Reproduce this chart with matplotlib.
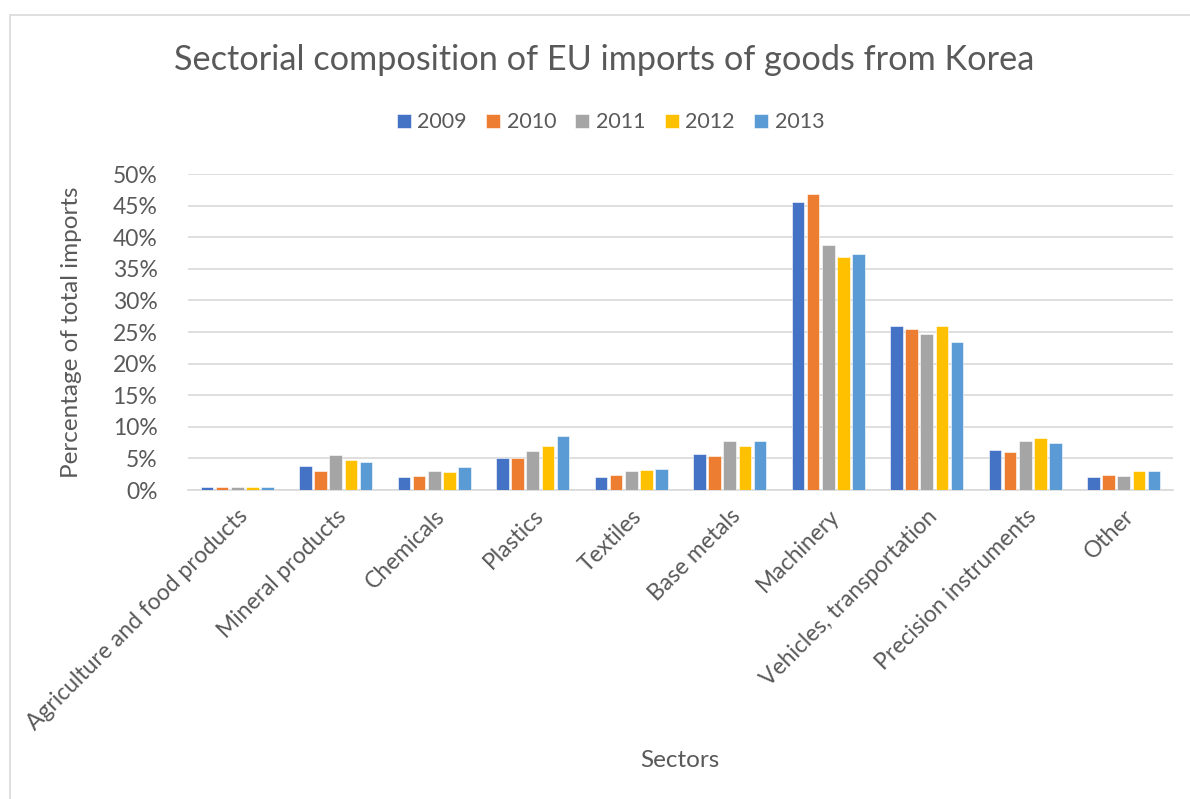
import numpy as np
import matplotlib
matplotlib.use("Agg")
import matplotlib.pyplot as plt
from matplotlib.patches import Rectangle
from matplotlib.ticker import PercentFormatter

# data (percent of total imports)
sectors = ["Agriculture and food products", "Mineral products", "Chemicals", "Plastics",
           "Textiles", "Base metals", "Machinery", "Vehicles, transportation",
           "Precision instruments", "Other"]
years = ["2009", "2010", "2011", "2012", "2013"]
v2009 = [0.45, 3.8, 2.1, 5.0, 2.1, 5.7, 45.5, 26.0, 6.4, 2.1]
v2010 = [0.4, 3.0, 2.2, 5.1, 2.3, 5.4, 46.8, 25.5, 6.0, 2.3]
v2011 = [0.4, 5.5, 3.0, 6.2, 3.0, 7.8, 38.7, 24.7, 7.7, 2.2]
v2012 = [0.45, 4.7, 2.9, 6.9, 3.2, 7.0, 36.8, 26.0, 8.3, 3.0]
v2013 = [0.45, 4.4, 3.6, 8.5, 3.4, 7.7, 37.3, 23.5, 7.4, 3.0]
series = [v2009, v2010, v2011, v2012, v2013]
colors = ["#4472C4", "#ED7D31", "#A5A5A5", "#FFC000", "#5B9BD5"]

txt = "#595959"
plt.rcParams["font.family"] = ["Lato", "DejaVu Sans"]

fig = plt.figure(figsize=(11.9, 7.99), dpi=100)
ax = fig.add_axes([0.158, 0.3867, 0.8277, 0.3955])

# chart border
fig.patches.append(Rectangle((10 / 1190, -0.1), 1.2, 1 - 15 / 799 + 0.1,
                             transform=fig.transFigure, fill=False,
                             edgecolor="#D9D9D9", lw=1.2))

x = np.arange(len(sectors))
step = 0.154
width = 0.128
for i, (vals, yr, c) in enumerate(zip(series, years, colors)):
    ax.bar(x + (i - 2) * step, vals, width=width, color=c, label=yr,
           edgecolor="white", linewidth=0.4, zorder=3)

ax.set_xlim(-0.5, len(sectors) - 0.5)
ax.set_ylim(0, 50)
ax.set_yticks(np.arange(0, 51, 5))
ax.yaxis.set_major_formatter(PercentFormatter(decimals=0))
ax.grid(axis="y", color="#D9D9D9", lw=1.2, zorder=0)
for s in ["top", "right", "left"]:
    ax.spines[s].set_visible(False)
ax.spines["bottom"].set_color("#D9D9D9")
ax.spines["bottom"].set_linewidth(1.2)
ax.tick_params(length=0, colors=txt, labelsize=16.5)
ax.tick_params(axis="y", pad=22)
ax.set_xticks(x)
ax.set_xticklabels(sectors, rotation=45, ha="right", rotation_mode="anchor")
ax.tick_params(axis="x", pad=11)

ax.set_ylabel("Percentage of total imports", fontsize=17.5, color=txt, labelpad=22)
fig.text(0.571, 0.048, "Sectors", fontsize=17.5, color=txt, ha="center", va="center")
fig.text(0.508, 0.925, "Sectorial composition of EU imports of goods from Korea",
         fontsize=24.7, color=txt, ha="center", va="center")

fig.legend(loc="center", bbox_to_anchor=(0.513, 0.847), ncol=5, frameon=False,
           fontsize=15.5, handlelength=0.65, handleheight=0.65, handletextpad=0.3,
           columnspacing=0.9, labelcolor=txt)

fig.savefig("out.png", dpi=100, facecolor="white")
